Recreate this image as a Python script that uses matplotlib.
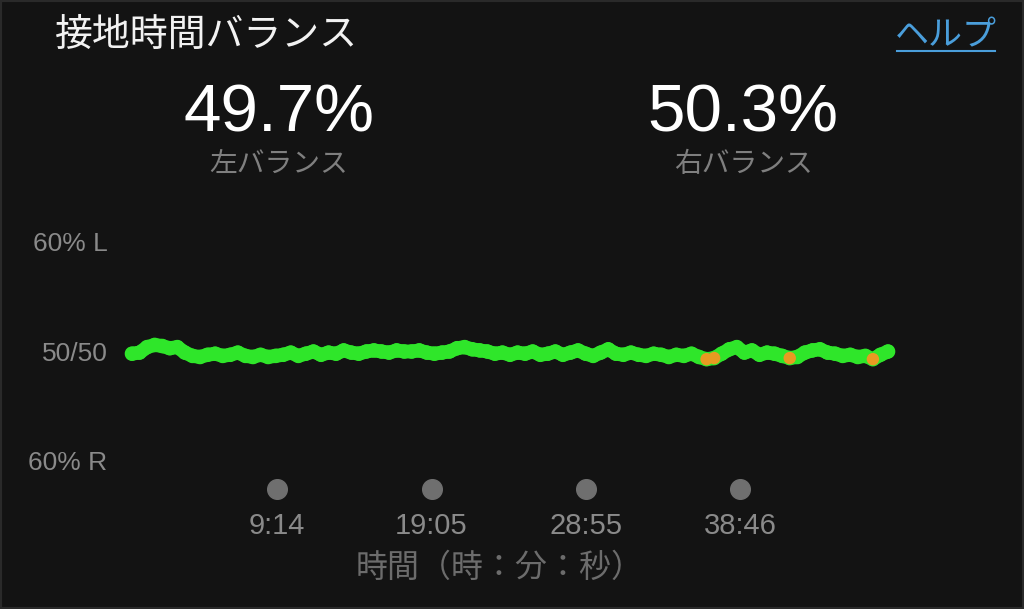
import matplotlib.pyplot as plt
from matplotlib.patches import Rectangle

# 接地時間バランス（左％）。時刻は秒
total_seconds = 2890
left_balance = [
    49.8, 49.9,
    50.4, 50.6, 50.5, 50.3, 50.4,
    49.9, 49.6, 49.5, 49.7,
    49.8, 49.6, 49.7, 49.9,
    49.6, 49.5, 49.7, 49.5, 49.6,
    49.7, 49.9, 49.6, 49.8, 50.0, 49.7,
    49.9, 49.8, 50.1, 49.9, 49.8,
    50.0, 50.1, 50.0, 49.9, 50.1, 50.0, 50.0, 50.1, 49.9, 49.8,
    49.9, 50.0, 50.3, 50.4, 50.2, 50.1,
    50.0, 49.8, 49.9, 49.7, 49.9, 49.8, 50.0,
    49.7, 49.8, 50.0, 49.7, 49.9, 50.1, 49.8, 49.6,
    49.9, 50.2, 49.8, 49.7, 49.9,
    49.7, 49.6, 49.8, 49.7, 49.5, 49.7, 49.6, 49.8, 49.5,
    49.3, 49.4,
    49.8, 50.2, 50.4, 49.9, 50.1,
    49.7, 49.9, 49.8, 49.6,
    49.4, 49.5,
    49.9, 50.1, 50.2, 49.9,
    49.8, 49.6, 49.7, 49.5, 49.6,
    49.3,
    49.7, 50.0,
]
times = [i * total_seconds / (len(left_balance) - 1) for i in range(len(left_balance))]

tick_seconds = [554, 1145, 1735, 2326]
tick_labels = ["9:14", "19:05", "28:55", "38:46"]
y_ticks = [60, 50, 40]
y_labels = ["60% L", "50/50", "60% R"]

left_pct = "49.7%"
right_pct = "50.3%"

bg = "#131313"
green = "#2fe62a"
orange = "#e89a22"
gray = "#8a8a8a"
jp = ["Noto Sans CJK JP", "DejaVu Sans"]
num = ["Liberation Sans", "Noto Sans CJK JP"]

fig = plt.figure(figsize=(10.24, 6.09), dpi=100, facecolor=bg)
fig.patches.append(Rectangle((0, 0), 1, 1, transform=fig.transFigure,
                             fill=False, edgecolor="#2a2a2a", linewidth=3))

ax = fig.add_axes([120 / 1024, (609 - 461) / 609, 780 / 1024, 219 / 609])
ax.set_facecolor(bg)
px_per_sec = 154.5 / 590.6
ax.set_xlim(-12 / px_per_sec, 768 / px_per_sec)
ax.set_ylim(40, 60)
for s in ax.spines.values():
    s.set_visible(False)

ax.plot(times, left_balance, color=green, lw=10, solid_capstyle="round",
        solid_joinstyle="round", zorder=2)
ax.scatter(times, left_balance, s=110, c=green, edgecolors="none", zorder=3)
low_t = [t for t, v in zip(times, left_balance) if v < 49.45]
low_v = [v for v in left_balance if v < 49.45]
ax.scatter(low_t, low_v, s=80, c=orange, edgecolors="none", zorder=4)

ax.set_yticks(y_ticks)
ax.set_yticklabels(y_labels, family=num, fontsize=19, color=gray)
ax.tick_params(axis="y", length=0, pad=9)

ax.set_xticks(tick_seconds)
ax.set_xticklabels(tick_labels, family=num, fontsize=21, color=gray)
ax.tick_params(axis="x", length=0, pad=36.5)
ax.scatter(tick_seconds, [-0.128] * len(tick_seconds), s=200, c="#6f6f6f",
           transform=ax.get_xaxis_transform(), clip_on=False, zorder=3)

fig.text(500 / 1024, 1 - 568 / 609, "時間（時：分：秒）", family=jp, fontsize=23,
         color="#6c6c6c", ha="center", va="center")

fig.text(55 / 1024, 1 - 35 / 609, "接地時間バランス", family=jp, fontsize=27.3,
         color="#f2f2f2", ha="left", va="center")
fig.text(946 / 1024, 1 - 36 / 609, "ヘルプ", family=jp, fontsize=24.5,
         color="#4a9edb", ha="center", va="center")
fig.add_artist(plt.Line2D([897 / 1024, 995 / 1024], [1 - 51 / 609, 1 - 51 / 609],
                          color="#4a9edb", lw=1.5))

fig.text(279 / 1024, 1 - 114 / 609, left_pct, family=num, fontsize=48.5,
         color="white", ha="center", va="center")
fig.text(279 / 1024, 1 - 164 / 609, "左バランス", family=jp, fontsize=20,
         color="#7f7f7f", ha="center", va="center")
fig.text(743 / 1024, 1 - 114 / 609, right_pct, family=num, fontsize=48.5,
         color="white", ha="center", va="center")
fig.text(743 / 1024, 1 - 164 / 609, "右バランス", family=jp, fontsize=20,
         color="#7f7f7f", ha="center", va="center")

fig.savefig("out.png", dpi=100, facecolor=bg)
